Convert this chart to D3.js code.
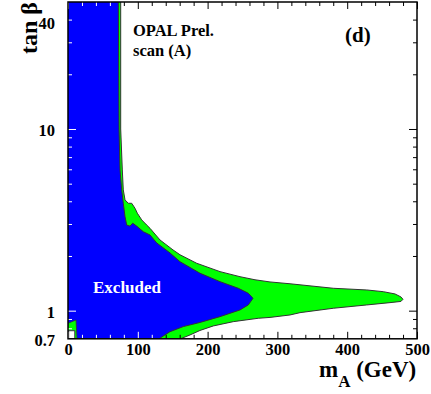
<!DOCTYPE html>
<html>
<head>
  <script src="https://d3js.org/d3.v7.min.js"></script>
  <style>
    body { margin: 0; background: #fff; }
    #chart { width: 431px; height: 394px; position: relative; }
    .axis path { display: none; }
  </style>
</head>
<body>
<div id="chart"></div>
<script>
const width = 431, height = 394;
const margin = {top: 2, left: 68, right: 14, bottom: 55.2};
const serif = "'Liberation Serif', 'Times New Roman', Times, 'DejaVu Serif', serif";

// edge of the excluded region (blue), [mA, tan beta], from top to the bottom axis
const excludedEdge = [
  [72.1, 50], [73.1, 10], [74.5, 5.95], [76.9, 4.62], [79.2, 3.90], [81.7, 3.29],
  [84.1, 2.96], [88.8, 2.92], [92.7, 3.03], [98.4, 2.92], [107.9, 2.72], [117.5, 2.61],
  [127.1, 2.36], [146.1, 2.08], [160.5, 1.86], [189.1, 1.607], [217.8, 1.444],
  [244, 1.328], [258.3, 1.247], [265, 1.17], [258.3, 1.075], [246.4, 1.009],
  [217.8, 0.927], [189.1, 0.861], [165.2, 0.817], [146.1, 0.766], [130.4, 0.7]
];

// outer edge of the green band
const greenEdge = [
  [75.5, 50], [75.5, 10], [77.8, 5.95], [79.2, 4.62], [81.7, 4.07], [86.4, 3.90],
  [91.3, 3.90], [96.0, 3.66], [99.3, 3.44], [105.6, 3.16], [112.8, 2.96], [117.5, 2.84],
  [131.8, 2.45], [150.4, 2.16], [160.5, 2.03], [184.4, 1.823], [217.8, 1.64],
  [246.4, 1.538], [267.9, 1.479], [289.4, 1.439], [318.1, 1.406], [380.1, 1.328],
  [428, 1.30], [451.7, 1.272], [468.5, 1.236], [477, 1.19], [479.9, 1.155],
  [477, 1.124], [461.3, 1.107], [428, 1.075], [380.1, 1.031], [332.4, 0.975],
  [318.1, 0.947], [289.4, 0.918], [272.6, 0.908], [236.8, 0.87], [208.2, 0.824],
  [189.1, 0.778], [174.8, 0.735], [161.2, 0.7]
];

// small green patch and white hole in the lower left corner
const cornerPatch = [[0, 0.852], [11.5, 0.889], [12.9, 0.7], [9.6, 0.7], [9.6, 0.775], [0, 0.775]];
const cornerHole = [[1, 0.7], [9.6, 0.7], [9.6, 0.775], [1, 0.775]];

const xMajor = [0, 100, 200, 300, 400, 500];
const xMinor = [20, 40, 60, 80, 120, 140, 160, 180, 220, 240, 260, 280, 320, 340, 360, 380, 420, 440, 460, 480];
const yMajor = [1, 10];
const yMinor = [0.8, 0.9, 2, 3, 4, 5, 6, 7, 8, 9, 20, 30, 40];
const yLabels = [0.7, 1, 10, 40];

const svg = d3.select("#chart").append("svg")
  .attr("width", width)
  .attr("height", height)
  .attr("font-family", serif)
  .attr("font-weight", "bold");

const x = d3.scaleLinear().domain([0, 500]).range([margin.left, width - margin.right]);
const y = d3.scaleLog().domain([0.7, 50]).range([height - margin.bottom, margin.top]);

svg.append("clipPath").attr("id", "plot")
  .append("rect")
  .attr("x", margin.left).attr("y", margin.top)
  .attr("width", width - margin.left - margin.right)
  .attr("height", height - margin.top - margin.bottom);

const line = d3.line().x(d => x(d[0])).y(d => y(d[1]));
const closed = d3.line().x(d => x(d[0])).y(d => y(d[1])).curve(d3.curveLinearClosed);

const plot = svg.append("g").attr("clip-path", "url(#plot)");

const greenArea = [[0, 50]].concat(greenEdge, [[0, 0.7]]);
const blueArea = [[0, 50]].concat(excludedEdge, [[0, 0.7]]);

plot.append("path").attr("d", closed(greenArea)).attr("fill", "#00ff00");
plot.append("path").attr("d", closed(blueArea)).attr("fill", "#0000ff");
plot.append("path").attr("d", closed(cornerPatch)).attr("fill", "#00ff00")
  .attr("stroke", "#333").attr("stroke-width", 0.8);
plot.append("path").attr("d", closed(cornerHole)).attr("fill", "#fff")
  .attr("stroke", "#333").attr("stroke-width", 0.8);

plot.append("path").attr("d", line(greenEdge))
  .attr("fill", "none").attr("stroke", "#333").attr("stroke-width", 1);
plot.append("path").attr("d", line(excludedEdge))
  .attr("fill", "none").attr("stroke", "#333").attr("stroke-width", 1);

// ticks, drawn inward on all four sides; white where they sit on blue
const bluePx = blueArea.map(d => [x(d[0]), y(d[1])]);
const holePx = cornerHole.map(d => [x(d[0]), y(d[1])]);

function tickAxis(axis, tx, ty) {
  const g = svg.append("g").attr("class", "axis")
    .attr("transform", `translate(${tx},${ty})`)
    .call(axis)
    .attr("font-family", serif)
    .attr("font-size", 16.5);
  g.selectAll(".tick line").attr("stroke", function() {
    const m = this.getCTM();
    const x2 = +this.getAttribute("x2") || 0, y2 = +this.getAttribute("y2") || 0;
    const p = [m.e + x2 / 2, m.f + y2 / 2];
    const inBlue = d3.polygonContains(bluePx, p) && !d3.polygonContains(holePx, p);
    return inBlue ? "#fff" : "#000";
  }).attr("stroke-width", 1);
  g.selectAll("text").attr("fill", "#000");
  return g;
}

const bottom = height - margin.bottom, right = width - margin.right;

tickAxis(d3.axisBottom(x).tickValues(xMajor).tickSize(-7).tickPadding(4.5).tickFormat(d => d), 0, bottom);
tickAxis(d3.axisBottom(x).tickValues(xMinor).tickSize(-4).tickFormat(""), 0, bottom);
tickAxis(d3.axisTop(x).tickValues(xMajor).tickSize(-7).tickFormat(""), 0, margin.top);
tickAxis(d3.axisTop(x).tickValues(xMinor).tickSize(-4).tickFormat(""), 0, margin.top);

tickAxis(d3.axisLeft(y).tickValues(yMajor).tickSize(-8).tickFormat(""), margin.left, 0);
tickAxis(d3.axisLeft(y).tickValues(yMinor).tickSize(-4).tickFormat(""), margin.left, 0);
tickAxis(d3.axisRight(y).tickValues(yMajor).tickSize(-8).tickFormat(""), right, 0);
tickAxis(d3.axisRight(y).tickValues(yMinor).tickSize(-4).tickFormat(""), right, 0);

const yLab = tickAxis(d3.axisLeft(y).tickValues(yLabels).tickSize(0).tickPadding(13).tickFormat(d => d), margin.left, 0);
yLab.selectAll("text").attr("dy", d => d === 40 ? "0.55em" : "0.4em");
yLab.selectAll("line").remove();

// frame
svg.append("rect")
  .attr("x", margin.left).attr("y", margin.top)
  .attr("width", width - margin.left - margin.right)
  .attr("height", height - margin.top - margin.bottom)
  .attr("fill", "none").attr("stroke", "#000").attr("stroke-width", 1.5);

// labels
svg.append("text").attr("x", 133).attr("y", 36).attr("font-size", 16.5).text("OPAL Prel.");
svg.append("text").attr("x", 133).attr("y", 56).attr("font-size", 16.5).text("scan (A)");
svg.append("text").attr("x", 345).attr("y", 42).attr("font-size", 21).text("(d)");
svg.append("text").attr("x", 93).attr("y", 293).attr("font-size", 17).attr("fill", "#fff").text("Excluded");

const xt = svg.append("text").attr("x", 319).attr("y", 377).attr("font-size", 23);
xt.append("tspan").text("m");
xt.append("tspan").attr("font-size", 17).attr("dy", 10).text("A");
xt.append("tspan").attr("dy", -10).text(" (GeV)");

svg.append("text")
  .attr("transform", "translate(37,54) rotate(-90)")
  .attr("font-size", 24)
  .text("tan β");
</script>
</body>
</html>
